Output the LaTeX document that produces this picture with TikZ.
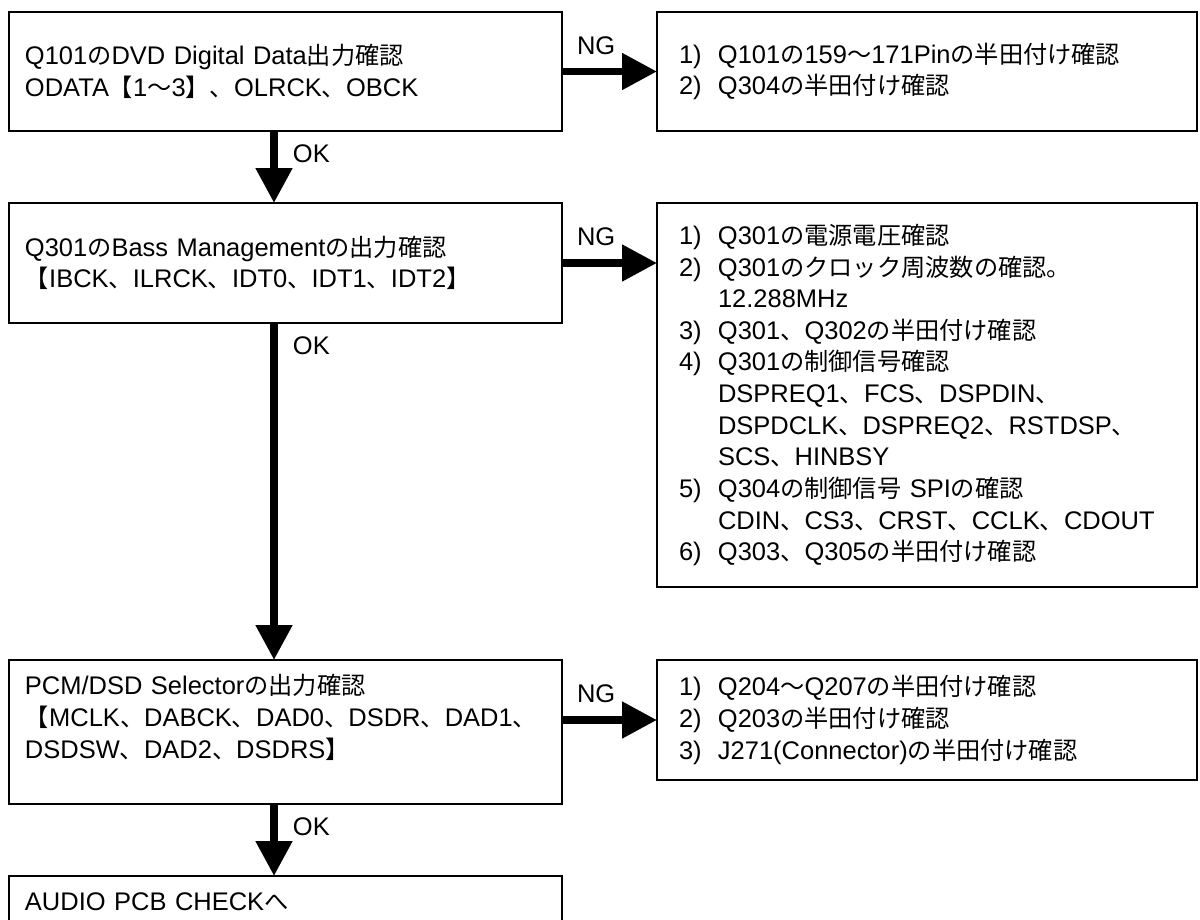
\documentclass[tikz,border=0pt]{standalone}
\usepackage{fontspec}
\usepackage{tikz}
\usetikzlibrary{arrows.meta}
\setmainfont{Liberation Sans}
\newfontfamily\latinfont{Liberation Sans}
\newfontfamily\jpfont[Scale=0.95]{Noto Sans CJK JP}

% kana, kanji and full-width signs go to the Japanese font
\XeTeXinterchartokenstate=1
\newXeTeXintercharclass\jpclass
\newcount\jpcode
\jpcode="3000
\loop\ifnum\jpcode<"A000
  \XeTeXcharclass\jpcode=\jpclass
  \advance\jpcode by 1
\repeat
\jpcode="FF00
\loop\ifnum\jpcode<"FFF0
  \XeTeXcharclass\jpcode=\jpclass
  \advance\jpcode by 1
\repeat
\XeTeXinterchartoks 0 \jpclass = {\jpfont}
\XeTeXinterchartoks 4095 \jpclass = {\jpfont}
\XeTeXinterchartoks \jpclass 0 = {\latinfont}
\XeTeXinterchartoks \jpclass 4095 = {\latinfont}

\newcommand{\itemno}[1]{\makebox[0.78cm][l]{#1)}}
\newcommand{\itemgap}{\hspace*{0.78cm}}

\begin{document}
\begin{tikzpicture}[
    box/.style={draw, line width=1.1pt, anchor=north west, align=left,
        inner xsep=0.32cm, inner ysep=0pt, outer sep=0pt, text width=10.42cm,
        font=\fontsize{14.5}{18}\selectfont},
    note/.style={box, inner xsep=0.44cm, text width=9.92cm},
    flow/.style={line width=4.5pt, -{Triangle[length=0.7cm, width=0.7cm]}},
    okl/.style={pos=0, anchor=north west, inner sep=0pt, xshift=0.3cm, yshift=-0.2cm,
        font=\fontsize{14.5}{18}\selectfont},
    ngl/.style={pos=0.36, above=0.26cm, inner sep=0pt,
        font=\fontsize{14.5}{18}\selectfont}]
    \useasboundingbox (0,0) rectangle (24,-18.38);

    % Step 1: Q101
    \node[box, minimum height=2.38cm] (q101) at (0.18,-0.24)
        {Q101のDVD Digital Data出力確認\\ODATA【1〜3】、OLRCK、OBCK};
    \node[note, minimum height=2.38cm] (chk1) at (13.14,-0.24)
        {\itemno{1}Q101の159〜171Pinの半田付け確認\\
         \itemno{2}Q304の半田付け確認};

    % Step 2: Q301
    \node[box, minimum height=2.40cm] (q301) at (0.18,-4.06)
        {Q301のBass Managementの出力確認\\【IBCK、ILRCK、IDT0、IDT1、IDT2】};
    \node[note, minimum height=7.68cm] (chk2) at (13.14,-4.06)
        {\itemno{1}Q301の電源電圧確認\\
         \itemno{2}Q301のクロック周波数の確認。\\
         \itemgap 12.288MHz\\
         \itemno{3}Q301、Q302の半田付け確認\\
         \itemno{4}Q301の制御信号確認\\
         \itemgap DSPREQ1、FCS、DSPDIN、\\
         \itemgap DSPDCLK、DSPREQ2、RSTDSP、\\
         \itemgap SCS、HINBSY\\
         \itemno{5}Q304の制御信号 SPIの確認\\
         \itemgap CDIN、CS3、CRST、CCLK、CDOUT\\
         \itemno{6}Q303、Q305の半田付け確認};

    % Step 3: PCM/DSD selector
    \node[box, minimum height=2.88cm] (pcm) at (0.18,-13.2)
        {PCM/DSD Selectorの出力確認\\【MCLK、DABCK、DAD0、DSDR、DAD1、\\DSDSW、DAD2、DSDRS】\\\mbox{}};
    \node[note, minimum height=2.40cm] (chk3) at (13.14,-13.2)
        {\itemno{1}Q204〜Q207の半田付け確認\\
         \itemno{2}Q203の半田付け確認\\
         \itemno{3}J271(Connector)の半田付け確認};

    % next check
    \node[box, minimum height=1.04cm] (audio) at (0.18,-17.52) {AUDIO PCB CHECKへ};

    % OK / NG arrows
    \draw[flow] ([xshift=-0.23cm]q101.south) -- ([xshift=-0.23cm]q301.north) node[okl] {OK};
    \draw[flow] ([xshift=-0.23cm]q301.south) -- ([xshift=-0.23cm]pcm.north) node[okl] {OK};
    \draw[flow] ([xshift=-0.23cm]pcm.south) -- ([xshift=-0.23cm]audio.north) node[okl] {OK};
    \draw[flow] (q101.east) -- (chk1.west) node[ngl] {NG};
    \draw[flow] (q301.east) -- (q301.east -| chk2.west) node[ngl] {NG};
    \draw[flow] (pcm.east |- chk3.west) -- (chk3.west) node[ngl] {NG};
\end{tikzpicture}
\end{document}
